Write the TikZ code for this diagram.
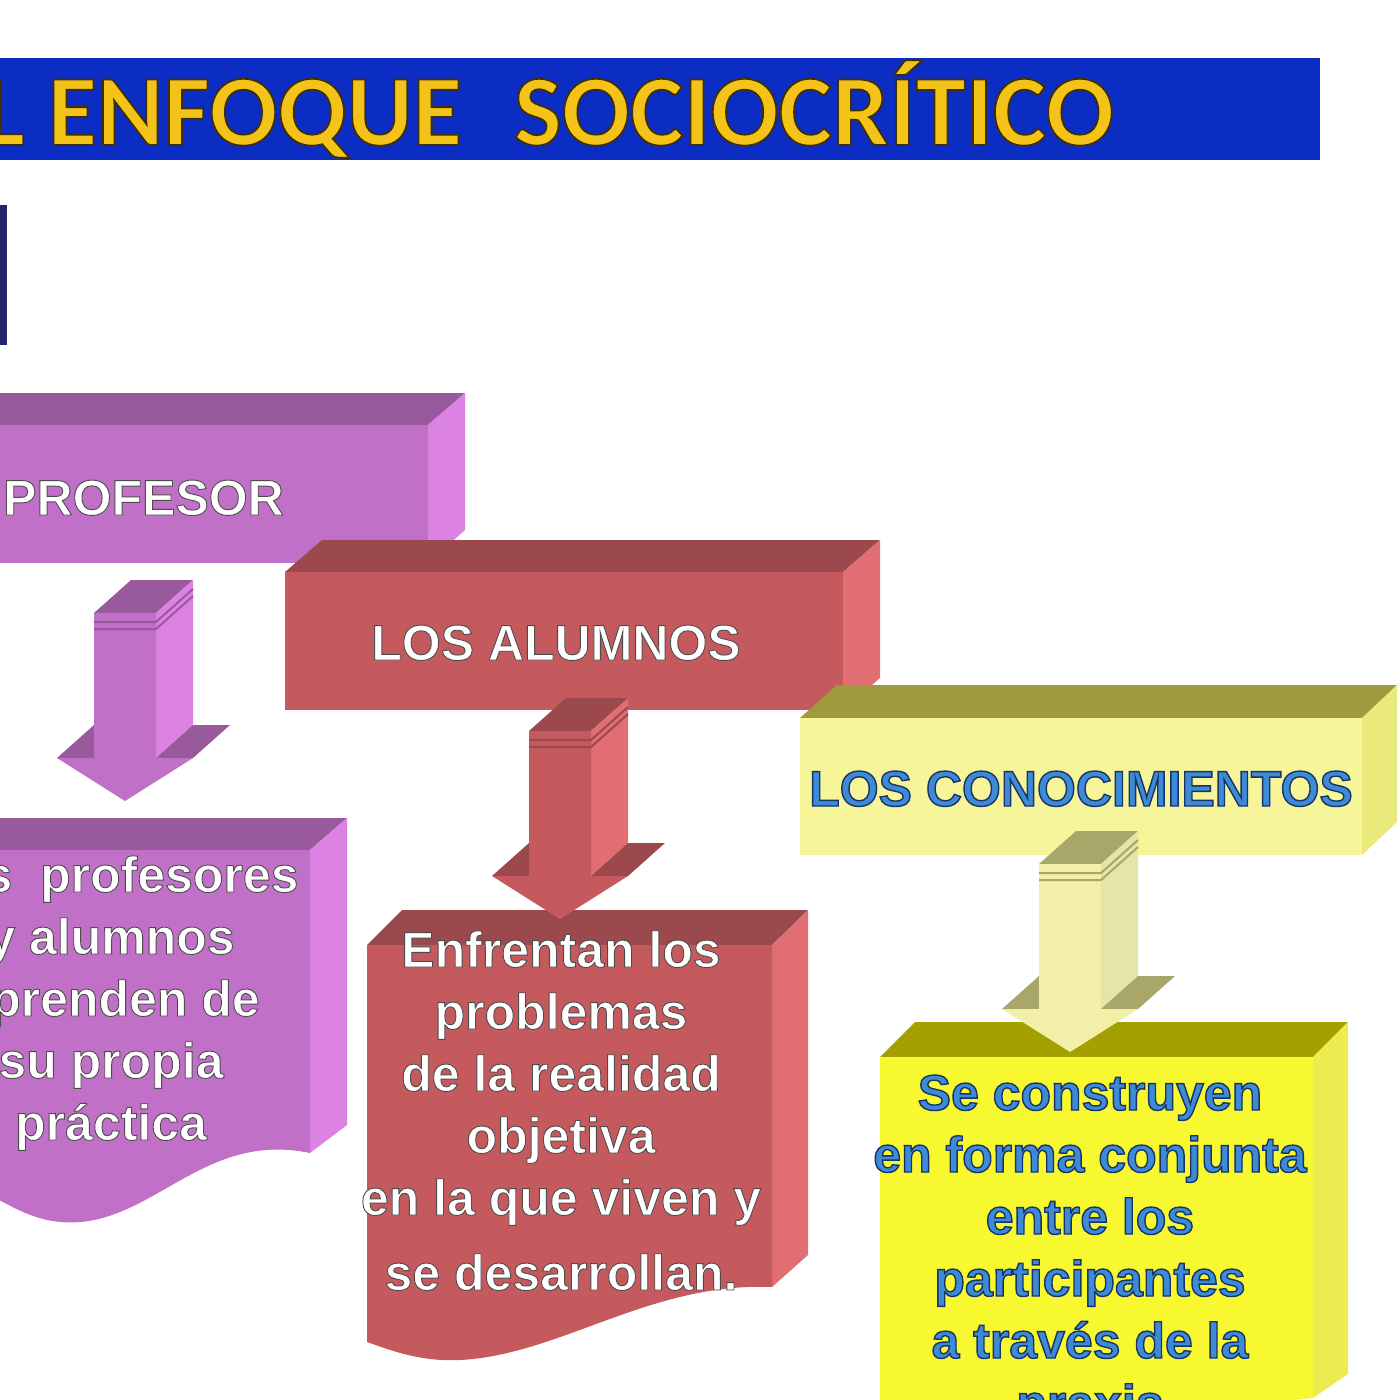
\documentclass[tikz,border=0pt]{standalone}
\usepackage{fontspec}
\newfontfamily\boxfont{Liberation Sans}
\newfontfamily\titlefont{Carlito}

% colours of the three columns
\definecolor{barblue}{HTML}{0C2DC4}
\definecolor{titleyellow}{HTML}{F3C31A}
\definecolor{navybar}{HTML}{23236E}
\definecolor{profFront}{HTML}{C070C6}
\definecolor{profTop}{HTML}{985A9C}
\definecolor{profSide}{HTML}{DC82E2}
\definecolor{alumFront}{HTML}{C55A5E}
\definecolor{alumTop}{HTML}{9C494D}
\definecolor{alumSide}{HTML}{E06E72}
\definecolor{conoFront}{HTML}{F6F59A}
\definecolor{conoTop}{HTML}{9E9A3E}
\definecolor{conoSide}{HTML}{EAEA7C}
\definecolor{conoArrFront}{HTML}{F1EFA8}
\definecolor{conoArrTop}{HTML}{A9A66A}
\definecolor{conoArrSide}{HTML}{E6E4A6}
\definecolor{praxFront}{HTML}{F8F830}
\definecolor{praxTop}{HTML}{A3A000}
\definecolor{praxSide}{HTML}{ECEC50}
\definecolor{conoBlue}{HTML}{3D8BD6}

% outlined letters: stroke colour (r g b), line width, text
\newcommand{\outl}[3]{%
  \special{pdf:literal direct 2 Tr #1 RG #2 w}#3\special{pdf:literal direct 0 Tr}}

\tikzset{
  boxtext/.style={font={\boxfont\bfseries\fontsize{50}{62}\selectfont},
    text=white, inner sep=0pt, align=center},
  bluetext/.style={boxtext, text=conoBlue},
  titletext/.style={font={\titlefont\bfseries\fontsize{101}{101}\selectfont},
    text=titleyellow, inner sep=0pt}
}

% 3D block arrow pointing down: centre x, top y, colour prefix
\newcommand{\blockarrow}[3]{%
  \begin{scope}[shift={(#1,#2)}]
    \fill[#3Top] (-31,0) -- (6,-33) -- (68,-33) -- (31,0) -- cycle;
    \fill[#3Side] (31,0) -- (68,-33) -- (68,112) -- (31,145) -- cycle;
    \fill[#3Top] (31,145) -- (68,145) -- (105,112) -- (68,112) -- cycle;
    \fill[#3Top] (-68,145) -- (-31,145) -- (6,112) -- (-31,112) -- cycle;
    \fill[#3Front] (-31,0) -- (31,0) -- (31,145) -- (68,145) -- (0,188)
      -- (-68,145) -- (-31,145) -- cycle;
    \foreach \r in {9,16}
      \draw[#3Top, line width=2] (-31,\r) -- (31,\r) -- ++(37,-33);
  \end{scope}
}

\begin{document}
\begin{tikzpicture}[x=1pt,y=-1pt]
  \useasboundingbox (0,0) rectangle (1400,1400);
  \clip (0,0) rectangle (1400,1400);
  \fill[white] (0,0) rectangle (1400,1400);

  % title bar
  \fill[barblue] (0,58) rectangle (1320,160);
  \fill[navybar] (0,205) rectangle (7,345);

  % upper boxes
  \fill[profTop] (-5,393) -- (465,393) -- (428,425) -- (-5,425) -- cycle;
  \fill[profSide] (428,425) -- (465,393) -- (465,530) -- (428,563) -- cycle;
  \fill[profFront] (-5,425) rectangle (428,563);

  \fill[alumTop] (285,572) -- (322,540) -- (880,540) -- (843,572) -- cycle;
  \fill[alumSide] (843,572) -- (880,540) -- (880,678) -- (843,710) -- cycle;
  \fill[alumFront] (285,572) rectangle (843,710);

  \fill[conoTop] (800,718) -- (837,685) -- (1397,685) -- (1362,718) -- cycle;
  \fill[conoSide] (1362,718) -- (1397,685) -- (1397,822) -- (1362,855) -- cycle;
  \fill[conoFront] (800,718) rectangle (1362,855);

  % lower boxes with wavy bottoms
  \fill[profTop] (-5,818) -- (347,818) -- (310,850) -- (-5,850) -- cycle;
  \fill[profSide] (310,850) -- (347,818) -- (347,1125) -- (310,1153) -- cycle;
  \fill[profFront] (-5,850) -- (310,850) -- (310,1153)
    .. controls (200,1130) and (150,1230) .. (60,1222)
    .. controls (30,1219) and (10,1205) .. (-5,1198) -- cycle;

  \fill[alumTop] (367,945) -- (402,910) -- (808,910) -- (772,945) -- cycle;
  \fill[alumSide] (772,945) -- (808,910) -- (808,1255) -- (772,1287) -- cycle;
  \fill[alumFront] (367,945) -- (772,945) -- (772,1287)
    .. controls (650,1282) and (560,1355) .. (460,1360)
    .. controls (420,1362) and (390,1350) .. (367,1342) -- cycle;

  \fill[praxTop] (880,1057) -- (915,1022) -- (1348,1022) -- (1313,1057) -- cycle;
  \fill[praxSide] (1313,1057) -- (1348,1022) -- (1348,1374) -- (1313,1398) -- cycle;
  \fill[praxFront] (880,1057) -- (1313,1057) -- (1313,1398)
    .. controls (1290,1400) and (1262,1404) .. (1240,1412) -- (880,1412) -- cycle;

  % arrows
  \blockarrow{125}{613}{prof}
  \blockarrow{560}{731}{alum}
  \blockarrow{1070}{864}{conoArr}

  % texts (base = last line)
  \node[titletext, anchor=base west] (title) at (-18,145)
    {\outl{0.25 0.18 0.02}{1.8}{L ENFOQUE\hspace{52pt}SOCIOCRÍTICO}};
  \node[boxtext, anchor=base west] (profesor) at (3,515)
    {\outl{0.3 0.3 0.3}{0.9}{PROFESOR}};
  \node[boxtext, anchor=base] (alumnos) at (556,660)
    {\outl{0.3 0.3 0.3}{0.9}{LOS ALUMNOS}};
  \node[bluetext, anchor=base] (conocim) at (1081,806)
    {\outl{0.1 0.2 0.4}{1.4}{LOS CONOCIMIENTOS}};
  \node[boxtext, anchor=base] (aprenden) at (111,1140)
    {\outl{0.3 0.3 0.3}{0.9}{\phantom{Lo}s\ \ profesores\\ y alumnos\\ \phantom{a}prenden de\\ su propia\\ práctica}};
  \node[boxtext, anchor=base] (enfrentan) at (561,1290)
    {\outl{0.3 0.3 0.3}{0.9}{Enfrentan los\\ problemas\\ de la realidad\\ objetiva\\ en la que viven y\\[13pt] se desarrollan.}};
  \node[bluetext, anchor=base] (construyen) at (1090,1420)
    {\outl{0.1 0.2 0.4}{1.4}{Se construyen\\ en forma conjunta\\ entre los\\ participantes\\ a través de la\\ praxis}};
\end{tikzpicture}
\end{document}
